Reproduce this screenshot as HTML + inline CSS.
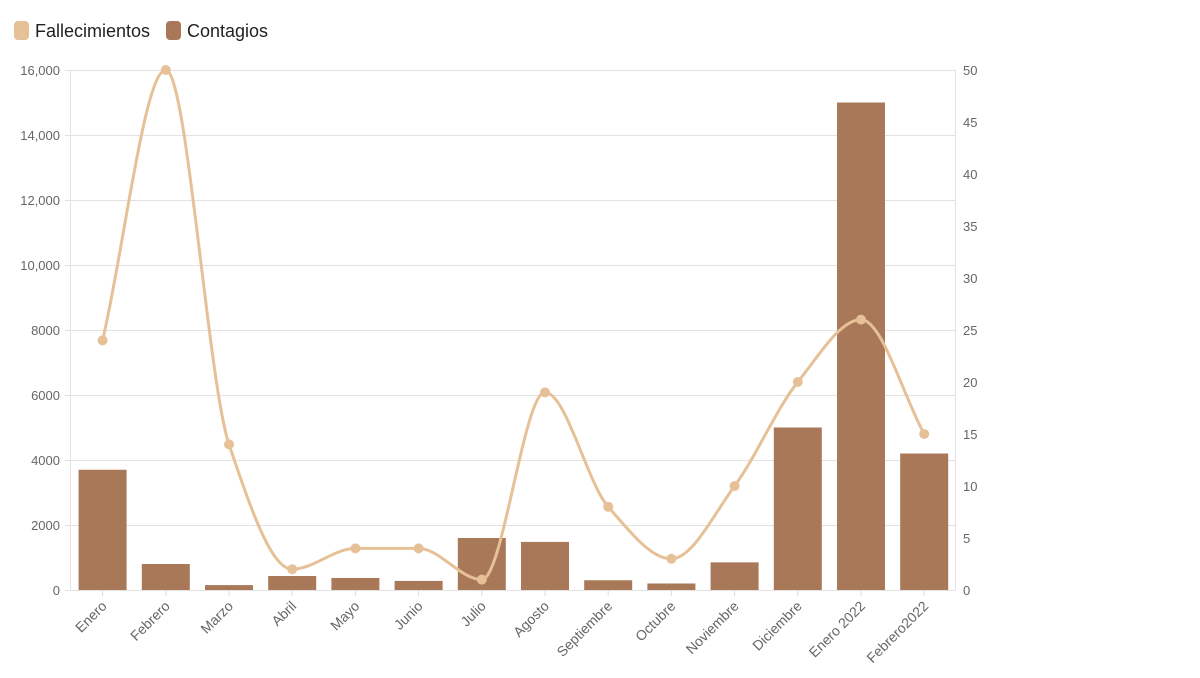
<!DOCTYPE html><html><head><meta charset="utf-8"><style>body{margin:0;background:#fff;width:1200px;height:673px;overflow:hidden;font-family:"Liberation Sans",sans-serif}</style></head><body>
<svg width="1200" height="673" xmlns="http://www.w3.org/2000/svg" font-family="Liberation Sans, sans-serif">
<rect x="14" y="21" width="15" height="19" rx="4" fill="#e6c197"/>
<text x="35" y="37" font-size="18" fill="#222">Fallecimientos</text>
<rect x="166" y="21" width="15" height="19" rx="4" fill="#a87858"/>
<text x="187" y="37" font-size="18" fill="#222">Contagios</text>
<g stroke="#e2e2e2" stroke-width="1">
<line x1="65" x2="955" y1="70.5" y2="70.5"/><line x1="65" x2="955" y1="135.5" y2="135.5"/><line x1="65" x2="955" y1="200.5" y2="200.5"/><line x1="65" x2="955" y1="265.5" y2="265.5"/><line x1="65" x2="955" y1="330.5" y2="330.5"/><line x1="65" x2="955" y1="395.5" y2="395.5"/><line x1="65" x2="955" y1="460.5" y2="460.5"/><line x1="65" x2="955" y1="525.5" y2="525.5"/><line x1="65" x2="955" y1="590.5" y2="590.5"/>
<line x1="70.5" x2="70.5" y1="70" y2="590"/><line x1="955.5" x2="955.5" y1="70" y2="590"/>
</g>
<g font-size="13" fill="#666" text-anchor="end">
<text x="60" y="75">16,000</text><text x="60" y="140">14,000</text><text x="60" y="205">12,000</text><text x="60" y="270">10,000</text><text x="60" y="335">8000</text><text x="60" y="400">6000</text><text x="60" y="465">4000</text><text x="60" y="530">2000</text><text x="60" y="595">0</text>
</g>
<g font-size="13" fill="#666">
<text x="963" y="75">50</text><text x="963" y="127">45</text><text x="963" y="179">40</text><text x="963" y="231">35</text><text x="963" y="283">30</text><text x="963" y="335">25</text><text x="963" y="387">20</text><text x="963" y="439">15</text><text x="963" y="491">10</text><text x="963" y="543">5</text><text x="963" y="595">0</text>
</g>
<g id="bars" fill="#a87858"></g>
<path id="line" fill="none" stroke="#e6c197" stroke-width="3"/>
<g id="dots" fill="#e6c197"></g>
<g id="labels" font-size="14" fill="#666" text-anchor="end">
</g>
</svg>
<script>
var names=["Enero","Febrero","Marzo","Abril","Mayo","Junio","Julio","Agosto","Septiembre","Octubre","Noviembre","Diciembre","Enero 2022","Febrero2022"];
var bars=[3700,800,150,430,370,280,1600,1480,300,200,850,5000,15000,4200];
var line=[24,50,14,2,4,4,1,19,8,3,10,20,26,15];
var ns="http://www.w3.org/2000/svg",bw=63.2,L=71;
var pts=[];
for(var i=0;i<14;i++){var cx=L+bw*(i+0.5);
var h=bars[i]/16000*520;var r=document.createElementNS(ns,"rect");
r.setAttribute("x",cx-24);r.setAttribute("width",48);r.setAttribute("y",590-h);r.setAttribute("height",h);
document.getElementById("bars").appendChild(r);
var y=590-line[i]*10.4;pts.push([cx,y]);
var c=document.createElementNS(ns,"circle");c.setAttribute("cx",cx);c.setAttribute("cy",y);c.setAttribute("r",5);
document.getElementById("dots").appendChild(c);
var t=document.createElementNS(ns,"text");t.setAttribute("transform","translate("+(cx+5)+",607) rotate(-45)");t.textContent=names[i];
document.getElementById("labels").appendChild(t);
var tk=document.createElementNS(ns,"line");tk.setAttribute("x1",cx);tk.setAttribute("x2",cx);tk.setAttribute("y1",590);tk.setAttribute("y2",596);tk.setAttribute("stroke","#ddd");
document.getElementById("labels").appendChild(tk);}
// monotone X (d3 style)
var n=pts.length,s=[],m=[];
for(var i=0;i<n-1;i++)s.push((pts[i+1][1]-pts[i][1])/(pts[i+1][0]-pts[i][0]));
for(var i=0;i<n;i++){
 if(i==0)m.push(s[0]);else if(i==n-1)m.push(s[n-2]);
 else{ if(s[i-1]*s[i]<=0)m.push(0);else m.push(2/(1/s[i-1]+1/s[i]));}
}
var d="M"+pts[0][0]+","+pts[0][1];
for(var i=0;i<n-1;i++){var h=(pts[i+1][0]-pts[i][0])/3;
d+=" C"+(pts[i][0]+h)+","+(pts[i][1]+m[i]*h)+" "+(pts[i+1][0]-h)+","+(pts[i+1][1]-m[i+1]*h)+" "+pts[i+1][0]+","+pts[i+1][1];}
document.getElementById("line").setAttribute("d",d);
</script>
</body></html>
